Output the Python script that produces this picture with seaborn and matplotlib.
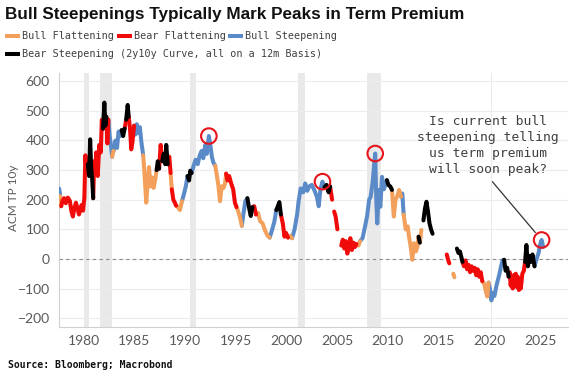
import numpy as np
import pandas as pd
import matplotlib
matplotlib.use("Agg")
import matplotlib.pyplot as plt
import seaborn as sns
from matplotlib.lines import Line2D

nan = np.nan

# ---- data ----
years = [
    1977.60, 1977.70, 1977.80, 1977.92, 1978.08, 1978.25, 1978.45, 1978.65, 1978.80, 1978.95,
    1979.10, 1979.25, 1979.40, 1979.55, 1979.70, 1979.80, 1979.95, 1980.08, 1980.18, 1980.30,
    1980.42, 1980.55, 1980.65, 1980.75, 1980.85, 1980.95, 1981.05, 1981.15, 1981.25, 1981.40,
    1981.55, 1981.70, 1981.80, 1981.92, 1982.05, 1982.15, 1982.25, 1982.35, 1982.45, 1982.58,
    1982.70, 1982.82, 1982.95, 1983.15, 1983.30, 1983.45, 1983.60, 1983.75, 1983.90, 1984.05,
    1984.20, 1984.35, 1984.45, 1984.58, 1984.70, 1984.82, 1984.98, 1985.10, 1985.25, 1985.40,
    1985.55, 1985.70, 1985.88, 1986.02, 1986.18, 1986.30, 1986.45, 1986.60, 1986.75, 1986.90,
    1987.05, 1987.20, 1987.32, 1987.45, 1987.60, 1987.75, 1987.90, 1988.05, 1988.15, 1988.30,
    1988.45, 1988.58, 1988.70, 1988.85, 1989.00, 1989.12, 1989.30, 1989.50, 1989.70, 1989.90,
    1990.08, 1990.25, 1990.40, 1990.52, 1990.65, 1990.85, 1991.05, 1991.25, 1991.45, 1991.65,
    1991.80, 1992.00, 1992.15, 1992.35, 1992.50, 1992.65, 1992.80, 1992.98, 1993.15, 1993.30,
    1993.45, 1993.62, 1993.80, 1993.95, 1994.05, 1994.20, 1994.35, 1994.55, 1994.75, 1994.92,
    1995.08, 1995.25, 1995.42, 1995.60, 1995.75, 1995.95, 1996.15, 1996.30, 1996.48, 1996.65,
    1996.82, 1997.00, 1997.20, 1997.40, 1997.65, 1997.90, 1998.15, 1998.35, 1998.60, 1998.80,
    1999.00, 1999.15, 1999.30, 1999.45, 1999.65, 1999.80, 1999.95, 2000.15, 2000.35, 2000.55,
    2000.80, 2001.05, 2001.20, 2001.40, 2001.65, 2001.85, 2002.05, 2002.25, 2002.50, 2002.75,
    2003.00, 2003.18, 2003.35, 2003.55, 2003.75, 2003.95, 2004.15, 2004.30, 2004.50, 2004.60,
    2004.70, 2004.85, 2005.02, 2005.10, 2005.40, 2005.55, 2005.70, 2005.85, 2006.00, 2006.15,
    2006.30, 2006.45, 2006.60, 2006.75, 2006.90, 2007.10, 2007.25, 2007.50, 2007.75, 2007.95,
    2008.15, 2008.30, 2008.50, 2008.65, 2008.75, 2008.85, 2008.95, 2009.10, 2009.25, 2009.42,
    2009.60, 2009.75, 2009.90, 2010.05, 2010.25, 2010.40, 2010.58, 2010.75, 2010.95, 2011.10,
    2011.30, 2011.42, 2011.55, 2011.75, 2011.95, 2012.08, 2012.25, 2012.40, 2012.57, 2012.75,
    2012.90, 2013.02, 2013.15, 2013.30, 2013.40, 2013.50, 2013.65, 2013.80, 2013.95, 2014.10,
    2014.25, 2014.40, 2014.50, 2015.80, 2015.95, 2016.05, 2016.15, 2016.45, 2016.55, 2016.65,
    2016.80, 2016.95, 2017.10, 2017.25, 2017.35, 2017.50, 2017.65, 2017.80, 2017.95, 2018.10,
    2018.25, 2018.40, 2018.55, 2018.70, 2018.85, 2019.00, 2019.15, 2019.30, 2019.50, 2019.65,
    2019.80, 2019.92, 2020.05, 2020.20, 2020.35, 2020.50, 2020.70, 2020.85, 2021.00, 2021.15,
    2021.30, 2021.45, 2021.60, 2021.75, 2021.90, 2022.00, 2022.10, 2022.20, 2022.30, 2022.40,
    2022.50, 2022.60, 2022.70, 2022.80, 2022.90, 2023.00, 2023.10, 2023.25, 2023.40, 2023.52,
    2023.65, 2023.80, 2023.95, 2024.10, 2024.25, 2024.45, 2024.65, 2024.85, 2024.98, 2025.15,
    2025.30,
]

tp = [
    237, 212, 178, 196, 205, 188, 207, 196, 162, 143,
    172, 190, 170, 150, 168, 182, 163, 205, 350, 290,
    320, 280, 404, 310, 270, 205, 330, 290, 360, 280,
    385, 360, 470, 440, 528, 450, 480, 390, 470, 415,
    385, 345, 365, 400, 375, 430, 415, 435, 415, 440,
    470, 520, 480, 440, 370, 395, 450, 420, 455, 425,
    445, 395, 350, 280, 190, 250, 310, 245, 275, 240,
    265, 300, 330, 305, 385, 330, 355, 320, 385, 320,
    345, 290, 235, 200, 190, 180, 175, 165, 195, 220,
    245, 280, 265, 298, 290, 315, 335, 320, 350, 365,
    340, 385, 355, 415, 385, 345, 325, 315, 280, 245,
    195, 245, 240, 255, 288, 265, 280, 255, 235, 190,
    175, 160, 140, 112, 150, 195, 205, 175, 145, 175,
    178, 150, 155, 128, 120, 95, 78, 72, 100, 125,
    165, 178, 192, 150, 118, 75, 88, 72, 78, 70,
    100, 150, 195, 238, 225, 255, 230, 245, 250, 232,
    210, 178, 235, 261, 242, 250, 225, 245, 200, nan,
    160, 143, 100, nan, 45, 65, 35, 60, 18, 45,
    70, 30, 55, 40, 50, 45, 60, 70, 110, 145,
    200, 210, 260, 322, 356, 200, 120, 233, 176, 277,
    235, 250, 266, 250, 244, 233, 143, 199, 215, 233,
    210, 221, 150, 100, 110, 75, 40, -3, 53, 25,
    40, 75, 55, 98, nan, 130, 170, 193, 160, 120,
    100, 85, nan, 15, -5, -15, nan, -50, -62, nan,
    35, 20, 25, 5, -10, -25, -5, -35, -20, -45,
    -25, -40, -30, -55, -35, -60, -45, -75, -85, -110,
    -127, -80, -100, -140, -115, -125, -90, -70, -50, -25,
    -5, -3, -40, -30, -60, -45, -90, -60, -100, -55,
    -85, -50, -95, -60, -105, -70, -100, -50, -40, -10,
    47, -25, 10, -10, 15, -25, 0, 20, 45, 64,
    40,
]

# regime of the segment that starts at each point (None = no data drawn)
regime = [
    "bs", "bf", "rf", "rf", "rf", "rf", "rf", "rf", "rf", "rf",
    "rf", "rf", "rf", "rf", "rf", "rf", "rf", "rf", "rf", "rf",
    "rs", "rs", "rs", "rs", "rs", "rf", "rf", "rf", "rf", "rf",
    "rf", "rf", "rf", "rs", "rs", "rs", "rf", "rf", "bs", "bs",
    "bs", "bf", "bs", "bs", "bs", "bs", "bs", "rs", "rs", "rf",
    "rs", "rs", "rf", "rf", "rf", "rf", "bs", "bs", "bs", "bs",
    "bs", "bs", "bf", "bf", "bf", "bf", "bf", "bf", "bf", "bf",
    "bf", "rs", "rs", "rf", "rf", "rs", "rs", "rs", "rs", "rf",
    "rf", "bf", "rf", "rf", "rf", "bf", "bf", "bf", "bs", "bs",
    "bs", "rs", "rs", "rs", "bs", "bs", "bs", "bs", "bs", "bs",
    "bs", "bs", "bs", "bs", "bs", "bs", "bs", "bf", "bf", "bf",
    "bf", "bf", "bf", "bf", "rf", "rf", "rf", "rf", "rf", "rf",
    "bf", "bf", "bf", "bs", "bs", "bs", "rs", "rs", "rs", "rf",
    "rf", "bf", "bf", "bf", "bf", "bf", "bf", "bs", "bs", "bs",
    "rs", "rs", "rs", "rf", "rf", "rf", "rf", "bf", "bf", "bs",
    "bs", "bs", "bs", "bs", "bs", "bs", "bs", "bs", "bs", "bs",
    "bs", "bs", "bs", "bs", "rs", "rs", "rs", "rf", "rf", None,
    "rf", "rf", "rf", None, "rf", "rf", "rf", "rf", "rf", "rf",
    "rf", "rf", "rf", "rf", "bf", "bf", "bs", "bs", "bs", "bs",
    "bs", "bs", "bs", "bs", "bs", "bs", "bs", "bs", "bs", "bs",
    "bs", "bs", "rs", "rs", "rs", "bf", "bf", "bf", "bf", "bf",
    "bs", "bs", "bf", "bf", "bf", "bf", "bf", "bf", "bf", "bf",
    "bf", "rs", "bf", "rs", None, "rs", "rs", "rs", "rs", "rs",
    "rs", "rf", None, "rf", "rf", "rf", None, "bf", "bf", None,
    "rs", "rs", "rs", "rs", "rf", "rf", "rf", "rf", "rf", "rf",
    "rf", "rf", "rf", "rf", "rf", "rf", "rf", "bf", "bf", "bf",
    "bf", "bs", "bs", "bs", "bs", "bs", "bs", "bs", "bs", "bs",
    "bs", "rs", "rs", "rs", "rf", "rf", "rf", "rf", "rf", "rf",
    "rf", "rf", "rf", "rf", "rf", "rf", "rf", "rf", "rf", "rs",
    "rs", "rs", "rs", "rs", "rs", "bs", "bs", "bs", "bs", "bs",
    "bs",
]

regime_order = ["bf", "rf", "bs", "rs"]
regime_names = {
    "bf": "Bull Flattening",
    "rf": "Bear Flattening",
    "bs": "Bull Steepening",
    "rs": "Bear Steepening (2y10y Curve, all on a 12m Basis)",
}
regime_colors = {"bf": "#F2A05C", "rf": "#F00A0A", "bs": "#5A8BC8", "rs": "#000000"}

recessions = [(1980.05, 1980.55), (1981.6, 1982.85), (1990.5, 1991.1),
              (2001.15, 2001.8), (2007.9, 2009.35), (2020.12, 2020.3)]
peak_windows = [(1991.5, 1993.0), (2002.8, 2004.0), (2008.0, 2009.0), (2024.5, 2025.5)]

title = "Bull Steepenings Typically Mark Peaks in Term Premium"
ylabel = "ACM TP 10y"
note = "Is current bull\nsteepening telling\nus term premium\nwill soon peak?"
source = "Source: Bloomberg; Macrobond"
xticks = [1980, 1985, 1990, 1995, 2000, 2005, 2010, 2015, 2020, 2025]
yticks = [-200, -100, 0, 100, 200, 300, 400, 500, 600]

# ---- build coloured segments ----
n = len(years)
assert len(tp) == n and len(regime) == n, (len(years), len(tp), len(regime))
rows = []
seg = 0
cur = None
prev_end = -1
for i in range(n - 1):
    if regime[i] is None or np.isnan(tp[i]) or np.isnan(tp[i + 1]):
        cur = None
        continue
    r = regime[i]
    if r != cur or prev_end != i:
        seg += 1
        cur = r
        rows.append((years[i], tp[i], r, seg))
    rows.append((years[i + 1], tp[i + 1], r, seg))
    prev_end = i + 1
df = pd.DataFrame(rows, columns=["year", "tp", "regime", "seg"])

# ---- style ----
sns.set_style("white")
plt.rcParams["font.family"] = ["Lato", "DejaVu Sans"]
plt.rcParams["lines.solid_joinstyle"] = "round"
plt.rcParams["lines.solid_capstyle"] = "round"
MONO = "DejaVu Sans Mono"
GREY = "#595959"
LW = 2.9

W, H = 584, 379
fig = plt.figure(figsize=(W / 100, H / 100), dpi=100)
ax = fig.add_axes([0.1005, 0.1372, 0.8721, 0.6702])

for a, b in recessions:
    ax.axvspan(a, b, color="#e9e9e9", lw=0, zorder=0)

ax.set_yticks(yticks)
ax.yaxis.grid(True, color="#ececec", lw=0.8, zorder=0)
ax.set_axisbelow(True)
ax.axhline(0, color="#8c8c8c", lw=0.8, ls=(0, (3, 3)), zorder=1)

sns.lineplot(data=df, x="year", y="tp", hue="regime", units="seg", estimator=None,
             palette=regime_colors, linewidth=LW, legend=False, sort=False, ax=ax, zorder=3)

# peak circles
yr = np.array(years)
tv = np.array(tp, dtype=float)
peaks = []
for a, b in peak_windows:
    m = (yr >= a) & (yr <= b) & ~np.isnan(tv)
    idx = np.where(m)[0][np.nanargmax(tv[m])]
    peaks.append((yr[idx], tv[idx]))
ax.scatter([p[0] for p in peaks], [p[1] for p in peaks], s=125, facecolors="none",
           edgecolors="#E8141C", linewidths=1.5, zorder=5)

ax.annotate(note, xy=peaks[-1], xytext=(2019.85, 382), ha="center", va="center",
            family=MONO, fontsize=9.4, color="#404040", linespacing=1.3,
            arrowprops=dict(arrowstyle="-", color="#333333", lw=0.9, shrinkA=2, shrinkB=7,
                            relpos=(0.5, 0.0)), zorder=6)

ax.set_xlim(1977.55, 2027.75)
ax.set_ylim(-230, 628)
ax.set_xticks(xticks)
ax.set_xlabel("")
ax.set_ylabel("")
for s in ["top", "right"]:
    ax.spines[s].set_visible(False)
for s in ["left", "bottom"]:
    ax.spines[s].set_color("#cfcfcf")
    ax.spines[s].set_linewidth(0.8)
ax.tick_params(axis="both", colors="#cfcfcf", labelcolor=GREY, labelsize=10, length=3, width=0.8)
ax.tick_params(axis="x", pad=3)

fig.text(13.5 / W, 1 - 198 / H, ylabel, rotation=90, ha="center", va="center",
         color=GREY, fontsize=8.5)

fig.text(5 / W, 1 - 15 / H, title, fontsize=12.3, weight="bold", va="center",
         family=["Liberation Sans Narrow", "Liberation Sans"], color="#111111")

# legend drawn by hand (two rows, as in the reference)
legend_rows = [[("bf", 5), ("rf", 117), ("bs", 228)], [("rs", 5)]]
row_y = [36, 54]
for items, yy in zip(legend_rows, row_y):
    for key, x0 in items:
        fig.add_artist(Line2D([x0 / W, (x0 + 15) / W], [1 - yy / H, 1 - yy / H],
                              color=regime_colors[key], lw=LW, solid_capstyle="butt",
                              transform=fig.transFigure))
        fig.text((x0 + 17) / W, 1 - yy / H, regime_names[key], family=MONO, fontsize=7.3,
                 color="#404040", va="center", ha="left")

fig.text(8 / W, 1 - 365 / H, source, family=MONO, weight="bold", fontsize=7,
         va="center", color="#111111")

fig.savefig("out.png", dpi=100)
